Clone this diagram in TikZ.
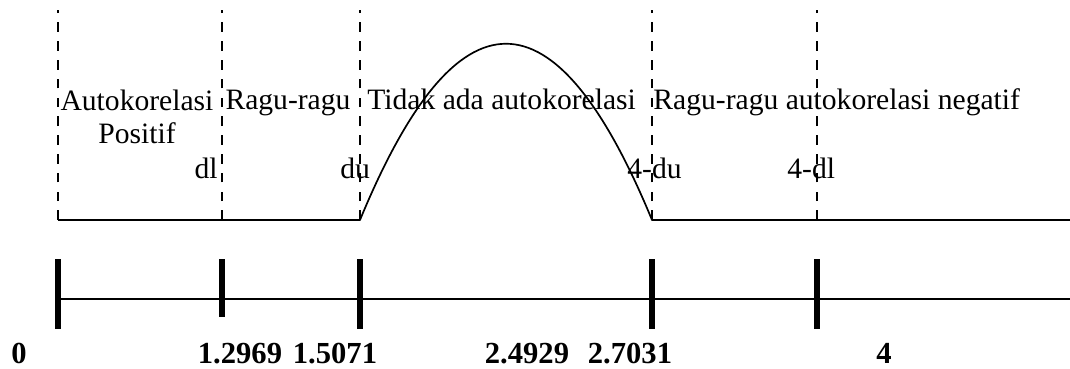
\documentclass[tikz,border=0pt]{standalone}
\usepackage{fontspec}
\setmainfont{Liberation Serif}
\usetikzlibrary{positioning}
\begin{document}
\begin{tikzpicture}[x=0.5pt,y=-0.5pt,
  lbl/.style={font=\fontsize{14.8}{16.5}\selectfont, inner sep=0pt},
  val/.style={font=\fontsize{15.3}{18}\selectfont\bfseries, inner sep=0pt, anchor=base},
  divider/.style={dash pattern=on 4.8pt off 4.6pt, line width=1.4pt},
  bartick/.style={line width=3.3pt}]
\useasboundingbox (0,0) rectangle (1070,369);
% Division points
\coordinate (d0) at (58,220); \coordinate (d1) at (222,220); \coordinate (d2) at (360,220);
\coordinate (d3) at (652,220); \coordinate (d4) at (817,220); \coordinate (dend) at (1070,220);

% Dashed region borders
\foreach \p in {d0,d1,d2,d3,d4} \draw[divider] (\p) -- ++(0,-210);

% Distribution line
\draw[line width=0.85pt, line join=round] (d0) -- (d2) .. controls (457,-15) and (555,-15) .. (d3) -- (dend);

% Axis
\coordinate (a0) at (58,299); \coordinate (aend) at (1070,299);
\draw[line width=0.85pt] (a0) -- (aend);
\draw[bartick] (58,259) -- (58,329);
\draw[bartick] (222,259) -- (222,317);
\draw[bartick] (360,259) -- (360,329);
\draw[bartick] (652,259) -- (652,329);
\draw[bartick] (817,259) -- (817,329);

% Region labels
\node[lbl, align=center, anchor=base] (pos) at (137,143) {Autokorelasi\\Positif};
\node[lbl, anchor=base] (ragu1) at (288,110) {Ragu-ragu};
\node[lbl, anchor=base west] (tidak) at (367,110) {Tidak ada autokorelasi};
\node[lbl, anchor=base west] (ragu2) at (653,110) {Ragu-ragu autokorelasi negatif};

% Bound labels
\node[lbl, anchor=base east] (dl) at (218,178) {dl};
\node[lbl, anchor=base west] (du) at (340,178) {du};
\node[lbl, anchor=base west] (mdu) at (627,178) {4-du};
\node[lbl, anchor=base west] (mdl) at (787,178) {4-dl};

% Values
\node[val] (v0) at (19,363) {0};
\node[val] (v1) at (240,363) {1.2969};
\node[val] (v2) at (335,363) {1.5071};
\node[val] (v3) at (527,363) {2.4929};
\node[val] (v4) at (630,363) {2.7031};
\node[val] (v5) at (884,363) {4};
\end{tikzpicture}
\end{document}
